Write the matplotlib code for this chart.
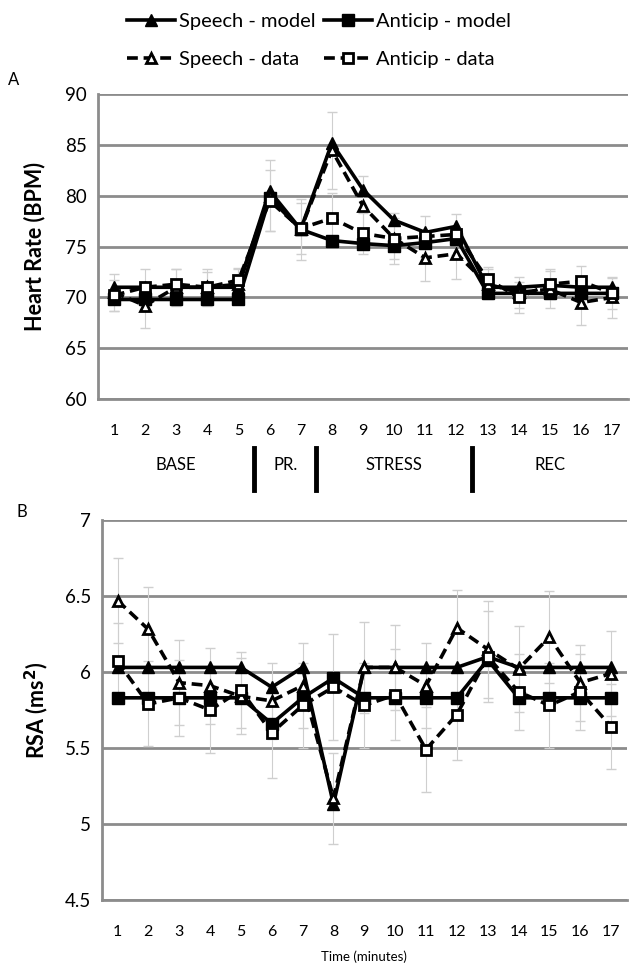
import numpy as np
import matplotlib
matplotlib.use('Agg')
import matplotlib.pyplot as plt
import matplotlib.transforms as mtransforms

plt.rcParams['font.family'] = ['Lato', 'DejaVu Sans']

minutes = list(range(1, 18))

# Heart rate (BPM)
hr_speech_model = [71.0, 71.0, 71.0, 71.0, 71.0, 80.5, 76.7, 85.2, 80.6, 77.6, 76.4, 77.0, 71.0, 71.0, 71.2, 71.0, 71.0]
hr_anticip_model = [69.8, 69.8, 69.8, 69.8, 69.8, 79.8, 76.7, 75.6, 75.3, 75.1, 75.4, 75.8, 70.4, 70.4, 70.4, 70.4, 70.4]
hr_speech_data = [70.5, 69.2, 71.0, 71.0, 71.3, 80.0, 76.7, 84.5, 79.0, 75.8, 73.9, 74.3, 71.3, 70.5, 70.8, 69.5, 70.0]
hr_anticip_data = [70.2, 71.0, 71.3, 71.0, 71.7, 79.5, 76.8, 77.8, 76.3, 75.8, 76.0, 76.2, 71.8, 70.0, 71.3, 71.6, 70.4]
hr_speech_err = [1.8, 2.2, 1.8, 1.8, 1.5, 3.5, 3.0, 3.8, 3.0, 2.5, 2.3, 2.5, 1.5, 1.5, 1.8, 2.2, 2.0]
hr_anticip_err = [1.5, 1.8, 1.5, 1.5, 1.2, 3.0, 2.5, 2.5, 2.0, 2.0, 2.0, 2.0, 1.2, 1.5, 1.5, 1.5, 1.5]

# RSA (ms^2)
rsa_speech_model = [6.03, 6.03, 6.03, 6.03, 6.03, 5.90, 6.03, 5.13, 6.03, 6.03, 6.03, 6.03, 6.10, 6.03, 6.03, 6.03, 6.03]
rsa_anticip_model = [5.83, 5.83, 5.83, 5.83, 5.83, 5.66, 5.83, 5.96, 5.83, 5.83, 5.83, 5.83, 6.08, 5.83, 5.83, 5.83, 5.83]
rsa_speech_data = [6.47, 6.28, 5.93, 5.91, 5.84, 5.81, 5.91, 5.17, 6.03, 6.03, 5.91, 6.29, 6.15, 6.02, 6.23, 5.93, 5.99]
rsa_anticip_data = [6.07, 5.79, 5.83, 5.75, 5.88, 5.60, 5.78, 5.90, 5.78, 5.85, 5.49, 5.72, 6.10, 5.87, 5.78, 5.87, 5.64]
rsa_speech_err = [0.28, 0.28, 0.28, 0.25, 0.25, 0.25, 0.28, 0.30, 0.30, 0.28, 0.28, 0.25, 0.32, 0.28, 0.30, 0.25, 0.28]
rsa_anticip_err = [0.25, 0.28, 0.25, 0.28, 0.25, 0.30, 0.28, 0.35, 0.28, 0.30, 0.28, 0.30, 0.30, 0.25, 0.28, 0.25, 0.28]

phase_names = ['BASE', 'PR.', 'STRESS', 'REC']
phase_centers = [3, 6.5, 10, 15]
phase_bounds = [5.5, 7.5, 12.5]

labels = ['Speech - model', 'Anticip - model', 'Speech - data', 'Anticip - data']

GRID = '#8c8c8c'
ERR = '#cfcfcf'


def draw(ax, sm, am, sd, ad, se, ae):
    x = np.array(minutes)
    ax.errorbar(x, sd, yerr=se, fmt='none', ecolor=ERR, elinewidth=0.8, capsize=3.5, zorder=1)
    ax.errorbar(x, ad, yerr=ae, fmt='none', ecolor=ERR, elinewidth=0.8, capsize=3.5, zorder=1)
    h1, = ax.plot(x, sm, '-', color='black', lw=2.6, marker='^', ms=8, zorder=3)
    h2, = ax.plot(x, am, '-', color='black', lw=2.6, marker='s', ms=8, zorder=3)
    h3, = ax.plot(x, sd, '--', color='black', lw=2.6, marker='^', ms=7,
                  mfc='white', mec='black', mew=2, dashes=(3, 1.6), zorder=4)
    h4, = ax.plot(x, ad, '--', color='black', lw=2.6, marker='s', ms=7,
                  mfc='white', mec='black', mew=2, dashes=(3, 1.6), zorder=4)
    ax.set_xlim(0.5, 17.5)
    ax.set_xticks(x)
    ax.grid(axis='y', color=GRID, lw=2)
    ax.set_axisbelow(True)
    for s in ['top', 'right']:
        ax.spines[s].set_visible(False)
    for s in ['left', 'bottom']:
        ax.spines[s].set_color(GRID)
        ax.spines[s].set_linewidth(2)
    ax.tick_params(length=0, labelsize=13.5, pad=8)
    ax.tick_params(axis='x', labelsize=11.5, pad=18)
    return [h1, h2, h3, h4]


fig = plt.figure(figsize=(6.38, 9.77), dpi=100)
ax1 = fig.add_axes([0.154, 0.5916, 0.830, 0.3119])
ax2 = fig.add_axes([0.160, 0.0788, 0.822, 0.389])

handles = draw(ax1, hr_speech_model, hr_anticip_model, hr_speech_data, hr_anticip_data,
               hr_speech_err, hr_anticip_err)
ax1.set_ylim(60, 90)
ax1.set_yticks(np.arange(60, 91, 5))
ax1.set_ylabel('Heart Rate (BPM)', fontsize=15.5, fontweight='bold', labelpad=14)

trans = mtransforms.blended_transform_factory(ax1.transData, ax1.transAxes)
for name, c in zip(phase_names, phase_centers):
    ax1.text(c, -0.215, name, transform=trans, ha='center', va='center', fontsize=12)
for b in phase_bounds:
    ax1.plot([b, b], [-0.16, -0.30], transform=trans, color='black', lw=3.5, clip_on=False)

draw(ax2, rsa_speech_model, rsa_anticip_model, rsa_speech_data, rsa_anticip_data,
     rsa_speech_err, rsa_anticip_err)
ax2.set_ylim(4.5, 7)
ax2.set_yticks([4.5, 5, 5.5, 6, 6.5, 7])
ax2.set_yticklabels(['4.5', '5', '5.5', '6', '6.5', '7'])
ax2.set_ylabel(r'RSA (ms$^\mathbf{2}$)', fontsize=15.5, fontweight='bold', labelpad=10)
ax2.set_xlabel('Time (minutes)', fontsize=9.5, labelpad=8)

fig.legend([handles[0], handles[2], handles[1], handles[3]],
           [labels[0], labels[2], labels[1], labels[3]],
           ncol=2, loc='upper center', bbox_to_anchor=(0.50, 1.005), frameon=False,
           fontsize=14.5, handlelength=2.4, handletextpad=0.2, columnspacing=0.4,
           labelspacing=1.0)

fig.text(0.013, 1 - 80 / 977, 'A', fontsize=12, va='center')
fig.text(0.026, 1 - 512 / 977, 'B', fontsize=12, va='center')

fig.savefig('out.png', dpi=100)
